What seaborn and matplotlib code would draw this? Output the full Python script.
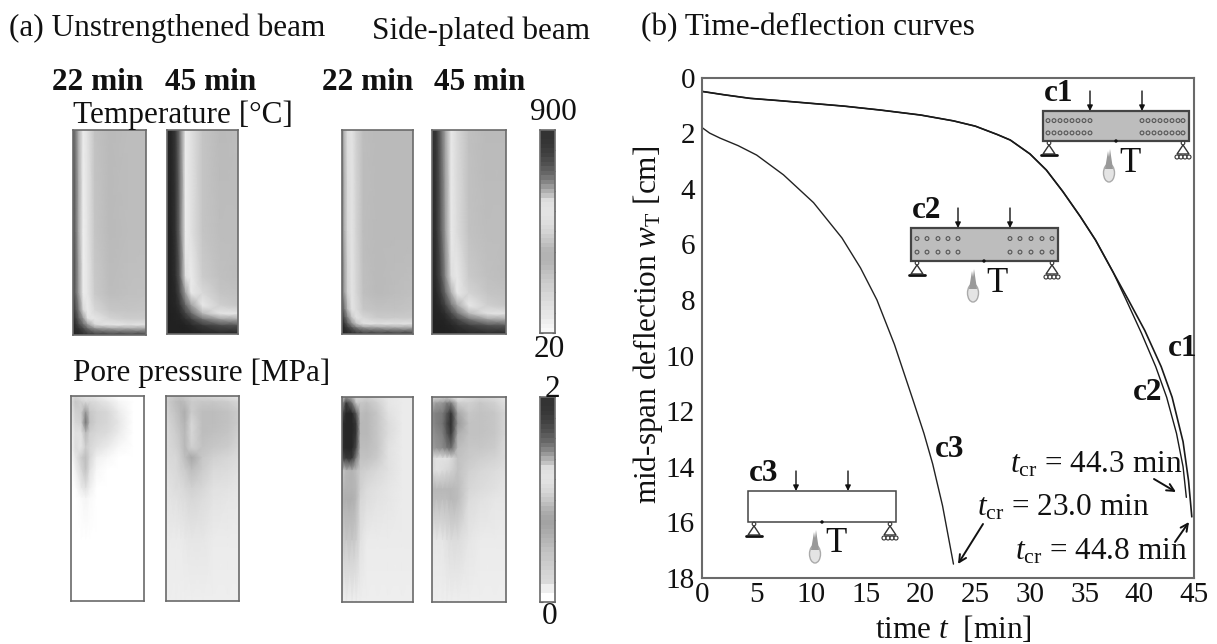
import numpy as np
import matplotlib
matplotlib.use("Agg")
import matplotlib.pyplot as plt
from matplotlib.patches import Rectangle, Circle, Polygon, Ellipse
import seaborn as sns

# curves of panel (b): time [min], deflection [cm]
c1_t = [0, 2, 4.4, 7, 10, 13, 16.3, 20, 23, 25, 27, 28.2, 30, 31.5, 33, 34.6, 36, 37.6, 39, 40.5, 42, 43, 44, 44.5, 44.8]
c1_w = [0.5, 0.62, 0.75, 0.83, 0.93, 1.03, 1.17, 1.35, 1.56, 1.75, 2.05, 2.25, 2.75, 3.33, 4.1, 5.0, 5.85, 7.0, 8.0, 9.1, 10.4, 11.5, 13.1, 14.5, 15.8]
c2_t = [0, 2, 4.4, 7, 10, 13, 16.3, 20, 23, 25, 27, 28.2, 30, 31.5, 33, 34.6, 36, 37.6, 38.8, 40.2, 41.5, 42.5, 43.4, 44, 44.3]
c2_w = [0.5, 0.62, 0.75, 0.83, 0.93, 1.03, 1.17, 1.35, 1.56, 1.75, 2.05, 2.25, 2.75, 3.33, 4.1, 5.0, 5.85, 7.0, 8.0, 9.2, 10.4, 11.5, 12.8, 14.0, 15.1]
c3_t = [0, 0.7, 1.65, 3.3, 5, 7.45, 10.2, 12.8, 14.5, 16, 17.6, 19.3, 20.3, 21.1, 22, 23.0]
c3_w = [1.8, 2.0, 2.18, 2.45, 2.79, 3.5, 4.5, 5.77, 6.85, 8.0, 9.6, 11.6, 12.8, 13.9, 15.4, 17.5]

x_ticks = [0, 5, 10, 15, 20, 25, 30, 35, 40, 45]
y_ticks = [0, 2, 4, 6, 8, 10, 12, 14, 16, 18]

# colour bars, grey level top to bottom (0 black, 100 white)
cbar_temp = [20, 20, 21, 22, 24, 26, 29, 32, 36, 40, 46, 52, 60, 68, 76, 86, 88, 89, 89, 88, 87, 85, 83, 80, 77, 74, 71, 70, 70, 71,
             73, 75, 77, 79, 81, 82, 84, 85, 87, 88, 90, 91, 93, 95, 97]
cbar_pres = [20, 20, 21, 22, 24, 26, 29, 32, 36, 40, 46, 52, 60, 68, 76, 86, 88, 89, 88, 86, 84, 81, 78, 74, 70, 67, 65, 64, 65, 67,
             69, 71, 73, 75, 77, 78, 80, 81, 83, 84, 85, 93, 93, 100, 100]

# grids of the field panels, fractions of width and height
t22_x = [0, 0.04, 0.08, 0.14, 0.2, 0.3, 0.5, 0.75, 1]
t22_y = [0, 0.5, 0.8, 0.88, 0.92, 0.95, 0.97, 1]
t45_x = [0, 0.06, 0.12, 0.18, 0.26, 0.34, 0.5, 0.75, 1]
t45_y = [0, 0.5, 0.72, 0.8, 0.86, 0.9, 0.93, 0.96, 1]
p_x = [0, 0.06, 0.14, 0.2, 0.26, 0.35, 0.5, 0.65, 0.85, 1]
p_y = [0, 0.03, 0.08, 0.13, 0.18, 0.25, 0.3, 0.36, 0.45, 0.5, 0.7, 1]

# temperature panels, grey levels
temp_a22 = [
    [35, 50, 70, 92, 88, 76, 73, 74, 74],
    [30, 45, 68, 93, 89, 77, 73, 74, 74],
    [28, 42, 62, 92, 90, 79, 74, 75, 76],
    [22, 32, 48, 84, 92, 84, 78, 77, 78],
    [18, 25, 38, 60, 89, 90, 83, 80, 80],
    [15, 20, 28, 42, 60, 85, 90, 88, 88],
    [15, 18, 20, 28, 40, 55, 62, 65, 65],
    [14, 15, 15, 18, 20, 22, 24, 24, 24],
]
temp_a45 = [
    [15, 15, 22, 45, 92, 88, 77, 73, 74],
    [14, 14, 20, 42, 92, 88, 77, 74, 74],
    [14, 14, 18, 35, 87, 92, 80, 75, 74],
    [14, 14, 16, 28, 62, 91, 85, 77, 76],
    [13, 14, 15, 20, 40, 62, 91, 81, 78],
    [13, 13, 14, 16, 26, 40, 72, 90, 89],
    [13, 13, 14, 14, 18, 24, 42, 60, 65],
    [13, 13, 13, 13, 14, 16, 22, 30, 32],
    [13, 13, 13, 13, 13, 13, 14, 15, 15],
]
temp_b22 = [
    [55, 74, 87, 89, 82, 74, 73, 73, 73],
    [50, 70, 85, 89, 83, 74, 73, 73, 73],
    [45, 64, 82, 89, 84, 75, 73, 74, 75],
    [32, 48, 72, 89, 86, 78, 76, 76, 77],
    [22, 35, 52, 78, 89, 84, 79, 79, 79],
    [16, 24, 36, 56, 76, 89, 88, 88, 88],
    [14, 18, 24, 34, 46, 58, 62, 66, 66],
    [14, 15, 15, 16, 18, 20, 20, 20, 20],
]
temp_b45 = [
    [18, 22, 40, 64, 91, 85, 75, 73, 73],
    [16, 20, 36, 60, 91, 86, 76, 74, 74],
    [15, 18, 30, 52, 87, 91, 79, 75, 74],
    [15, 16, 24, 40, 68, 91, 83, 77, 76],
    [14, 15, 18, 26, 46, 66, 91, 81, 78],
    [14, 14, 15, 18, 28, 44, 72, 89, 88],
    [13, 14, 14, 15, 20, 26, 44, 62, 66],
    [13, 13, 13, 14, 15, 18, 24, 32, 34],
    [13, 13, 13, 13, 13, 14, 15, 16, 16],
]

# pore pressure panels, grey levels
pres_a22 = [
    [88, 84, 88, 90, 90, 92, 96, 100, 100, 100],
    [88, 78, 82, 84, 84, 86, 90, 96, 100, 100],
    [90, 82, 80, 58, 78, 82, 84, 92, 100, 100],
    [92, 84, 82, 45, 76, 82, 84, 90, 100, 100],
    [94, 88, 88, 72, 82, 84, 86, 92, 100, 100],
    [96, 86, 90, 80, 84, 88, 92, 97, 100, 100],
    [98, 90, 80, 74, 84, 94, 97, 100, 100, 100],
    [100, 94, 84, 76, 88, 97, 100, 100, 100, 100],
    [100, 99, 92, 88, 94, 100, 100, 100, 100, 100],
    [100, 100, 98, 96, 98, 100, 100, 100, 100, 100],
    [100, 100, 100, 100, 100, 100, 100, 100, 100, 100],
    [100, 100, 100, 100, 100, 100, 100, 100, 100, 100],
]
pres_a45 = [
    [84, 80, 78, 78, 80, 82, 84, 86, 88, 90],
    [82, 78, 74, 72, 74, 80, 78, 78, 80, 84],
    [84, 80, 76, 72, 68, 80, 74, 74, 76, 80],
    [85, 82, 78, 74, 70, 84, 74, 74, 76, 80],
    [86, 83, 80, 76, 72, 84, 74, 75, 77, 82],
    [86, 84, 82, 78, 72, 82, 76, 78, 80, 84],
    [86, 85, 84, 80, 74, 66, 78, 82, 84, 86],
    [88, 86, 85, 82, 80, 74, 80, 85, 86, 88],
    [90, 88, 86, 86, 84, 82, 84, 88, 89, 90],
    [90, 89, 88, 87, 86, 84, 86, 89, 90, 91],
    [92, 92, 92, 92, 91, 90, 90, 92, 92, 92],
    [93, 93, 93, 93, 93, 93, 93, 93, 93, 93],
]
pres_b22 = [
    [82, 60, 70, 84, 84, 82, 86, 90, 92, 92],
    [60, 22, 45, 78, 78, 76, 82, 90, 92, 92],
    [30, 15, 15, 35, 74, 72, 78, 88, 92, 92],
    [18, 15, 15, 22, 72, 72, 78, 86, 92, 92],
    [18, 15, 15, 22, 72, 72, 78, 86, 92, 92],
    [18, 15, 15, 30, 74, 74, 78, 88, 92, 92],
    [30, 22, 22, 50, 76, 76, 80, 88, 92, 92],
    [78, 72, 70, 74, 80, 82, 85, 88, 92, 92],
    [72, 70, 70, 72, 82, 86, 88, 90, 92, 92],
    [70, 68, 68, 72, 84, 87, 89, 90, 92, 92],
    [80, 78, 78, 80, 88, 92, 92, 92, 92, 92],
    [93, 93, 93, 93, 93, 93, 93, 93, 93, 93],
]
pres_b45 = [
    [85, 85, 82, 82, 88, 92, 86, 84, 86, 90],
    [70, 62, 60, 50, 50, 80, 82, 78, 82, 88],
    [55, 50, 48, 35, 20, 65, 78, 76, 78, 84],
    [55, 50, 46, 30, 18, 60, 76, 76, 78, 84],
    [58, 54, 50, 35, 22, 68, 76, 76, 78, 84],
    [62, 58, 55, 48, 42, 74, 78, 78, 80, 86],
    [84, 88, 88, 88, 85, 76, 79, 81, 83, 86],
    [84, 88, 86, 84, 82, 76, 82, 84, 86, 88],
    [72, 72, 72, 72, 72, 74, 84, 86, 88, 90],
    [74, 74, 74, 74, 72, 74, 86, 88, 90, 90],
    [90, 90, 90, 88, 86, 86, 90, 92, 92, 92],
    [93, 93, 93, 93, 93, 93, 93, 93, 93, 93],
]

W, H = 1217, 644
FRAME = "#6a6a6a"
FS = 22.5

sns.set_theme(style="white")
plt.rcParams["font.family"] = ["Liberation Serif", "DejaVu Serif"]
plt.rcParams["mathtext.fontset"] = "custom"
plt.rcParams["mathtext.rm"] = "Liberation Serif"
plt.rcParams["mathtext.it"] = "Liberation Serif:italic"
plt.rcParams["mathtext.bf"] = "Liberation Serif:bold"

fig = plt.figure(figsize=(W / 100, H / 100), dpi=100)


def px_axes(left, top, right, bottom):
    return fig.add_axes([left / W, 1 - bottom / H, (right - left) / W, (bottom - top) / H])


def field(box, xs, ys, shades):
    ax = px_axes(*box)
    gx, gy = np.meshgrid(xs, ys)
    ax.pcolormesh(gx, gy, np.array(shades), shading="gouraud", cmap="gray", vmin=0, vmax=100)
    ax.set_xlim(0, 1)
    ax.set_ylim(1, 0)
    ax.set_xticks([])
    ax.set_yticks([])
    for s in ax.spines.values():
        s.set_visible(True)
        s.set_color(FRAME)
        s.set_linewidth(1.2)


def colorbar(box, shades):
    ax = px_axes(*box)
    sns.heatmap(np.array(shades).reshape(-1, 1), cmap="gray", vmin=0, vmax=100, cbar=False,
                xticklabels=False, yticklabels=False, ax=ax)
    ax.set_yticks(np.arange(0, len(shades) + 1, 4.5))
    ax.set_yticklabels([])
    ax.tick_params(left=True, right=True, direction="in", length=2, width=0.8, color="#444444", pad=0)
    for s in ax.spines.values():
        s.set_visible(True)
        s.set_color(FRAME)
        s.set_linewidth(1.2)


# panel (a)
field((73, 130, 146, 335), t22_x, t22_y, temp_a22)
field((167, 130, 238, 334), t45_x, t45_y, temp_a45)
field((342, 130, 413, 334), t22_x, t22_y, temp_b22)
field((432, 130, 506, 334), t45_x, t45_y, temp_b45)
colorbar((540, 130, 555, 333), cbar_temp)

field((71, 396, 144, 601), p_x, p_y, pres_a22)
field((166, 396, 239, 601), p_x, p_y, pres_a45)
field((342, 397, 413, 602), p_x, p_y, pres_b22)
field((432, 397, 506, 602), p_x, p_y, pres_b45)
colorbar((540, 397, 555, 602), cbar_pres)

# panel (b)
ax = px_axes(702, 77.5, 1194, 578)
sns.lineplot(x=c1_t, y=c1_w, color="#1a1a1a", linewidth=1.2, sort=False, estimator=None, ax=ax)
sns.lineplot(x=c2_t, y=c2_w, color="#1a1a1a", linewidth=1.0, sort=False, estimator=None, ax=ax)
sns.lineplot(x=c3_t, y=c3_w, color="#222222", linewidth=1.0, sort=False, estimator=None, ax=ax)
ax.set_xlim(0, 45)
ax.set_ylim(18, 0)
ax.set_xticks(x_ticks)
ax.set_yticks(y_ticks)
ax.tick_params(direction="in", length=4, width=1, color=FRAME, labelsize=21, pad=5, labelcolor="#111111")
ax.tick_params(axis="x", pad=3)
ax.set_xlabel(r"time $t$  [min]", fontsize=FS, color="#111111")
ax.set_ylabel(r"mid-span deflection $w_{\mathrm{T}}$ [cm]", fontsize=FS, color="#111111")
ax.xaxis.set_label_coords(0.51, -0.072)
ax.yaxis.set_label_coords(-0.076, 0.505)
for s in ax.spines.values():
    s.set_visible(True)
    s.set_color(FRAME)
    s.set_linewidth(1.5)

# overlay in pixel coordinates for the texts and beam sketches
ov = fig.add_axes([0, 0, 1, 1], zorder=5)
ov.set_xlim(0, W)
ov.set_ylim(H, 0)
ov.axis("off")
ov.patch.set_alpha(0)


def txt(x, y, s, size=FS, weight="normal", ha="left"):
    ov.text(x, y, s, fontsize=size, fontweight=weight, ha=ha, va="center", color="#111111")


txt(9, 28, "(a) Unstrengthened beam")
txt(372, 31, "Side-plated beam")
txt(641, 28, "(b) Time-deflection curves")
for x, s in zip([52, 165, 322, 434], ["22 min", "45 min", "22 min", "45 min"]):
    txt(x, 82, s, weight="bold")
txt(73, 115, "Temperature [°C]")
txt(73, 373, "Pore pressure [MPa]")
txt(553, 112, "900", ha="center")
txt(549, 349, "20", ha="center")
txt(552, 389, "2", ha="center")
txt(550, 617, "0", ha="center")

txt(1168, 348, "c1", weight="bold")
txt(1133, 392, "c2", weight="bold")
txt(935, 449, "c3", weight="bold")
txt(1010, 465, r"$t_{\mathrm{cr}}$ = 44.3 min")
txt(977, 508, r"$t_{\mathrm{cr}}$ = 23.0 min")
txt(1015, 552, r"$t_{\mathrm{cr}}$ = 44.8 min")


def arrow(x0, y0, x1, y1, lw=1.4, head=13):
    ov.annotate("", xy=(x1, y1), xytext=(x0, y0),
                arrowprops=dict(arrowstyle="->", lw=lw, color="#111111", mutation_scale=head,
                                shrinkA=0, shrinkB=0))


arrow(1154, 479, 1176, 492)
arrow(983, 524, 958, 564)
arrow(1175, 542, 1189, 522)


def beam(x0, y0, w, h, fill, bars, name, arrow_off, dot_off, flame_off, t_off):
    ov.add_patch(Rectangle((x0, y0), w, h, fc=fill, ec="#444444", lw=1.6 if fill != "white" else 1.1, zorder=2))
    for bx in bars:
        for dy in (0.32, 0.73):
            ov.add_patch(Circle((x0 + bx, y0 + h * dy), 1.9, fc="none", ec="#555555", lw=0.8, zorder=3))
    for off in arrow_off:
        ov.annotate("", xy=(x0 + off, y0), xytext=(x0 + off, y0 - 20),
                    arrowprops=dict(arrowstyle="-|>", lw=1, color="#111111", mutation_scale=8,
                                    shrinkA=0, shrinkB=0))
    ov.add_patch(Circle((x0 + dot_off, y0 + h), 1.7, fc="#111111", ec="none", zorder=4))
    # supports
    by = y0 + h
    lx = x0 + 6
    rx = x0 + w - 6
    for sx in (lx, rx):
        ov.add_patch(Circle((sx, by + 2), 1.8, fc="white", ec="#333333", lw=0.8, zorder=3))
        ov.add_patch(Polygon([(sx, by + 4), (sx - 6, by + 13), (sx + 6, by + 13)], fc="white", ec="#333333", lw=1, zorder=3))
    ov.plot([lx - 8, lx + 8], [by + 14, by + 14], color="#111111", lw=2)
    for i in range(4):
        ov.add_patch(Circle((rx - 6 + i * 4, by + 16), 2, fc="white", ec="#333333", lw=0.8, zorder=3))
    # flame and T
    fx = x0 + flame_off
    ov.add_patch(Ellipse((fx, by + 32), 11, 18, fc="#e4e4e4", ec="#aaaaaa", lw=1, zorder=3))
    ov.add_patch(Polygon([(fx - 4, by + 28), (fx - 1, by + 10), (fx, by + 16), (fx + 1, by + 8), (fx + 4, by + 28)],
                         fc="#999999", ec="none", zorder=3))
    txt(x0 + t_off, by + 22, "T", size=25, ha="center")
    txt(x0 + 1, y0 - 18, name, weight="bold")


beam(1043, 111, 146, 30, "#bdbdbd",
     [5, 11, 17, 23, 29, 35, 41, 47, 99, 105, 111, 117, 123, 129, 135, 140],
     "c1", [47, 99], 73, 66, 87)
beam(911, 228, 147, 33, "#bdbdbd",
     [6, 16, 27, 37, 47, 99, 109, 120, 131, 141],
     "c2", [47, 99], 73, 62, 86)
beam(748, 491, 148, 31, "white", [], "c3", [48, 100], 74, 67, 88)

plt.savefig("out.png", dpi=100)
